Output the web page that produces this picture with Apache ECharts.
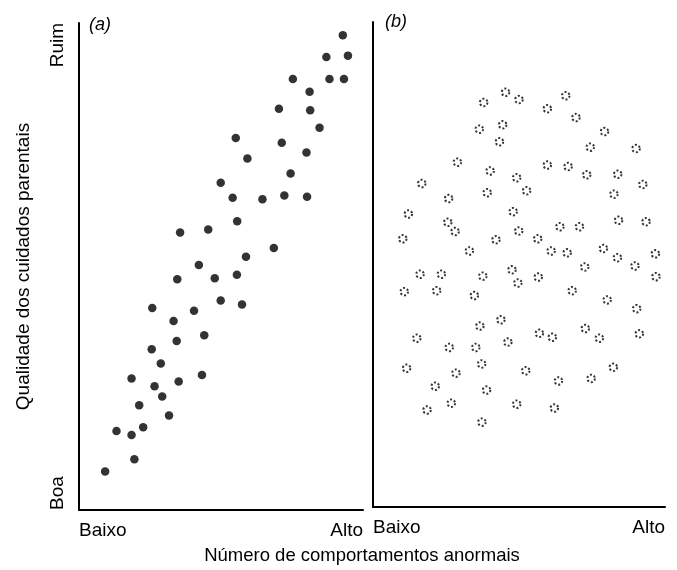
<!DOCTYPE html>
<html>
<head>
<meta charset="utf-8">
<script src="https://cdn.jsdelivr.net/npm/echarts@6/dist/echarts.min.js"></script>
<style>
  html, body { margin: 0; padding: 0; background: #fff; }
  #chart { width: 677px; height: 570px; }
</style>
</head>
<body>
<div id="chart"></div>
<script>
// rótulos dos eixos
var xLabels = ['Baixo', 'Alto'];
var yLabels = ['Boa', 'Ruim'];
var xTitle = 'Número de comportamentos anormais';
var yTitle = 'Qualidade dos cuidados parentais';
var panelTags = ['(a)', '(b)'];

// (a) comportamentos anormais x qualidade dos cuidados (escala 0-100)
var compA = [92.9, 87.1, 94.7, 75.3, 88.2, 93.3, 81.2, 70.4, 81.4, 84.7,
  55.2, 71.4, 80.1, 59.3, 74.5, 49.9, 54.1, 64.6, 72.3, 80.3,
  55.7, 35.6, 45.5, 68.6, 58.8, 42.2, 34.6, 47.8, 55.6, 25.8,
  40.5, 49.9, 57.4, 33.3, 44.1, 34.4, 25.6, 28.8, 18.5, 26.6,
  35.1, 43.3, 29.3, 21.2, 31.7, 13.2, 18.5, 22.6, 19.5, 9.2];
var cuidA = [97.5, 93.0, 93.3, 88.5, 88.5, 88.5, 85.9, 82.4, 82.1, 78.5,
  76.4, 75.4, 73.4, 72.2, 69.1, 67.2, 64.1, 63.8, 64.6, 64.3,
  59.3, 57.0, 57.6, 53.8, 52.0, 50.3, 47.4, 47.6, 48.3, 41.5,
  40.9, 43.0, 42.2, 38.8, 35.9, 34.7, 33.0, 30.1, 27.0, 25.4,
  26.4, 27.7, 23.3, 21.5, 19.4, 16.2, 15.4, 17.0, 10.4, 7.9];

// (b) sem relação
var compB = [45.4, 50.0, 37.9, 66.0, 59.7, 69.5, 36.4, 44.4, 43.3, 79.3,
  74.4, 90.1, 28.9, 59.7, 66.8, 40.1, 49.2, 73.2, 83.8, 16.7,
  92.4, 39.1, 52.6, 82.5, 25.9, 12.1, 48.0, 25.6, 28.1, 49.9,
  84.1, 93.5, 10.2, 42.1, 56.4, 64.0, 70.7, 33.0, 61.0, 66.5,
  78.9, 83.7, 89.7, 96.7, 72.5, 16.1, 23.4, 37.6, 47.6, 56.6,
  96.9, 49.6, 10.7, 21.8, 34.7, 68.2, 80.2, 90.3, 36.6, 43.8,
  15.0, 26.1, 35.2, 46.2, 57.0, 61.4, 72.7, 77.5, 91.2, 11.5,
  28.4, 37.2, 52.3, 63.5, 74.7, 82.3, 21.3, 38.9, 18.5, 26.8,
  49.2, 62.1, 37.3];
var cuidB = [85.5, 84.0, 83.4, 84.8, 82.1, 80.3, 77.9, 78.8, 75.3, 77.4,
  74.2, 73.9, 71.1, 70.5, 70.2, 69.3, 67.9, 68.5, 68.6, 66.7,
  66.5, 64.8, 65.2, 64.5, 63.6, 60.4, 60.9, 58.7, 56.8, 56.9,
  59.1, 58.8, 55.3, 55.1, 55.3, 57.8, 57.8, 52.8, 52.8, 52.4,
  53.3, 51.4, 49.7, 52.2, 49.5, 48.0, 48.0, 47.6, 48.9, 47.4,
  47.5, 46.2, 44.4, 44.6, 43.6, 44.6, 42.7, 40.9, 37.3, 38.6,
  34.8, 32.9, 32.9, 34.0, 35.8, 35.0, 36.8, 34.8, 35.7, 28.6,
  27.6, 29.5, 28.1, 26.0, 26.5, 28.8, 24.9, 24.1, 20.0, 21.4,
  21.2, 20.4, 17.5];

function zip(xs, ys) {
  var out = [];
  for (var i = 0; i < xs.length; i++) {
    out.push([xs[i], ys[i]]);
  }
  return out;
}

var font = '"Liberation Sans Narrow", "Liberation Sans", Arial, sans-serif';

function xAxisFor(idx) {
  return {
    gridIndex: idx,
    type: 'value',
    min: 0,
    max: 100,
    interval: 100,
    axisLine: { show: true, lineStyle: { color: '#000', width: 2 } },
    axisTick: { show: false },
    splitLine: { show: false },
    axisLabel: {
      formatter: function (v) { return v === 0 ? xLabels[0] : xLabels[1]; },
      alignMinLabel: 'left',
      alignMaxLabel: 'right',
      fontFamily: font,
      fontSize: 19,
      color: '#000',
      margin: 11
    }
  };
}

var myChart = echarts.init(document.getElementById('chart'));
var option = {
  animation: false,
  grid: [
    { left: 79, right: 314, top: 23, bottom: 60 },
    { left: 373, right: 12, top: 22, bottom: 63 }
  ],
  xAxis: [xAxisFor(0), xAxisFor(1)],
  yAxis: [{
    gridIndex: 0,
    type: 'value',
    min: 0,
    max: 100,
    interval: 100,
    axisLine: { show: true, lineStyle: { color: '#000', width: 2 } },
    axisTick: { show: false },
    splitLine: { show: false },
    axisLabel: {
      formatter: function (v) { return v === 0 ? yLabels[0] : yLabels[1]; },
      rotate: 90,
      alignMinLabel: 'left',
      alignMaxLabel: 'right',
      fontFamily: font,
      fontSize: 19,
      color: '#000',
      margin: 12
    },
    name: yTitle,
    nameLocation: 'middle',
    nameGap: 46,
    nameTextStyle: { fontFamily: font, fontSize: 19, color: '#000' }
  }, {
    gridIndex: 1,
    type: 'value',
    min: 0,
    max: 100,
    interval: 100,
    axisLine: { show: true, lineStyle: { color: '#000', width: 2 } },
    axisTick: { show: false },
    splitLine: { show: false },
    axisLabel: { show: false }
  }],
  series: [{
    type: 'scatter',
    xAxisIndex: 0,
    yAxisIndex: 0,
    symbol: 'circle',
    symbolSize: 8.5,
    itemStyle: { color: '#000' },
    data: zip(compA, cuidA)
  }, {
    type: 'scatter',
    xAxisIndex: 1,
    yAxisIndex: 1,
    symbol: 'circle',
    symbolSize: 7.5,
    itemStyle: { color: '#fff', borderColor: '#000', borderWidth: 2, borderType: 'dotted' },
    data: zip(compB, cuidB)
  }],
  graphic: [
    { type: 'text', x: 362, y: 556, style: { text: xTitle, fontFamily: font, fontSize: 18.5, fill: '#000', textAlign: 'center', textVerticalAlign: 'middle' } },
    { type: 'text', x: 100, y: 25, style: { text: panelTags[0], fontFamily: font, fontStyle: 'italic', fontSize: 18, fill: '#000', textAlign: 'center', textVerticalAlign: 'middle' } },
    { type: 'text', x: 396, y: 22, style: { text: panelTags[1], fontFamily: font, fontStyle: 'italic', fontSize: 18, fill: '#000', textAlign: 'center', textVerticalAlign: 'middle' } }
  ]
};
myChart.setOption(option);
</script>
</body>
</html>
